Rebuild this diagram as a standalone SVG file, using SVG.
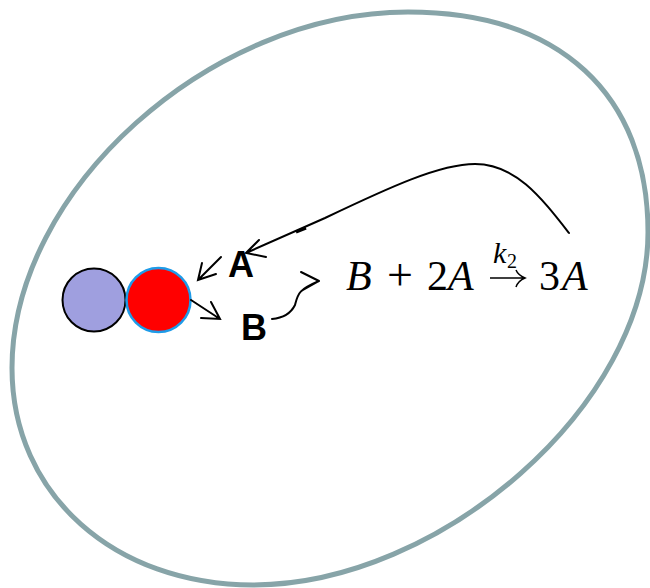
<svg xmlns="http://www.w3.org/2000/svg" width="650" height="588" viewBox="0 0 650 588">
<style>
.line{fill:none;stroke:#000;stroke-width:2;stroke-linecap:round;stroke-linejoin:miter}
.lab{font-family:"Liberation Sans",Arial,sans-serif;font-weight:700;font-size:36px;fill:#000}
.m{font-family:"Liberation Serif","Times New Roman",serif;font-size:42px;fill:#000}
.i{font-style:italic}
</style>
<rect width="650" height="588" fill="#fff"/>
<g id="cell"><path d="M408 12C560 12 648 95 648 232C648 405 440 585 253 585C115 585 12 495 12 368C12 190 210 12 408 12Z" fill="none" stroke="#87a4a8" stroke-width="5"/></g>
<g id="particle-blue"><circle cx="94" cy="300" r="31.5" fill="#9f9fdf" stroke="#000" stroke-width="2"/></g>
<g id="particle-red"><circle cx="158.500" cy="300" r="32" fill="#f00" stroke="#1e9be8" stroke-width="2.500"/></g>
<g id="connectors">
<path class="line" d="M221 257L198 280M202 263L198 280L216 274"/>
<path class="line" d="M191 300L220 319M211 302L220 319L201 318"/>
<path class="line" d="M272 319C284 318 291 313 295 305C298 294 298 290 319 281M303 290L319 281M301 272L319 281"/>
<path class="line" d="M569 233C540 196 515 164 475 164C440 164 390 187 325 218L246 253M259 240L246 253L266 257"/>
<path d="M296 232L306 228" stroke="#000" stroke-width="3" fill="none"/>
</g>
<g id="label-a"><text class="lab" x="228" y="277">A</text></g>
<g id="label-b"><text class="lab" x="241" y="340">B</text></g>
<g id="equation">
<text class="m i" x="346" y="290">B</text><text class="m" x="387" y="290" style="font-size:46px">+</text><text class="m" x="427" y="290">2</text><text class="m i" x="448" y="290">A</text>
<text class="m i" x="493" y="263" style="font-size:30px">k</text><text class="m" x="507" y="268" style="font-size:20px">2</text>
<path d="M490 278H524M516 270Q518 275 525 278Q518 281 516 287" fill="none" stroke="#000" stroke-width="1.500"/>
<text class="m" x="539" y="290">3</text><text class="m i" x="562" y="290">A</text>
</g>
</svg>
